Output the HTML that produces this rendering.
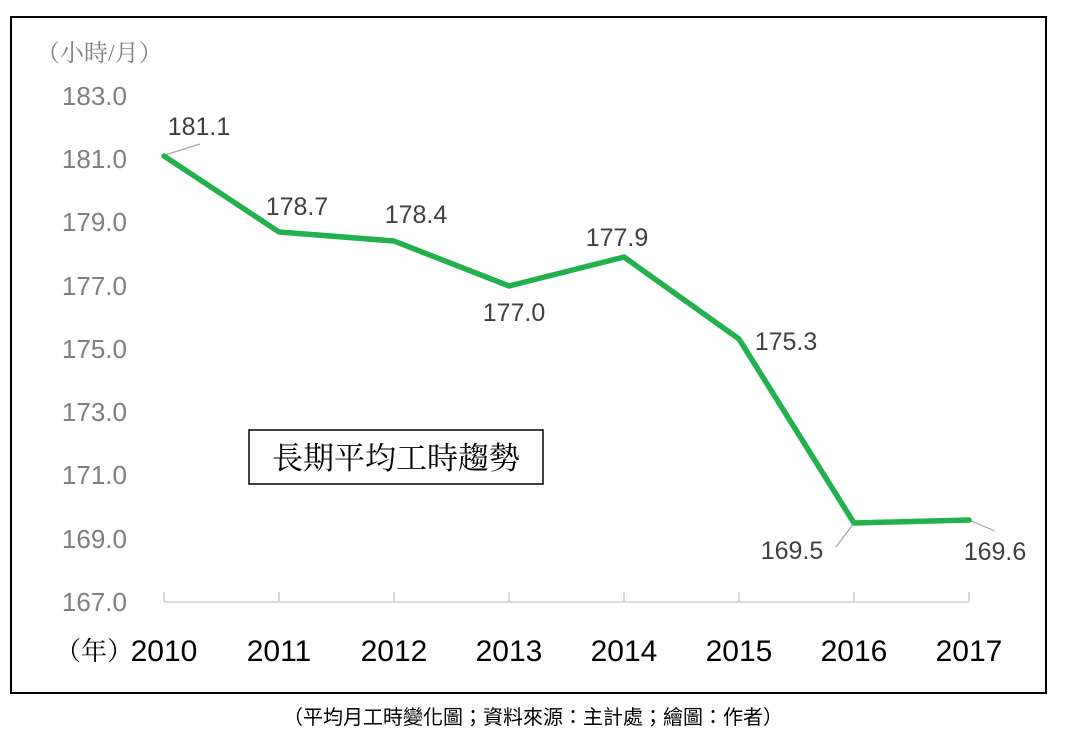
<!DOCTYPE html><html><head><meta charset="utf-8"><style>
body{margin:0;background:#fff;width:1066px;height:734px;overflow:hidden}
text{font-family:"Liberation Sans","Noto Sans CJK TC",sans-serif}
text.s{font-family:"Liberation Serif","Noto Serif CJK SC",serif}
</style></head><body>
<svg width="1066" height="734" xmlns="http://www.w3.org/2000/svg">
<rect x="11" y="17" width="1035" height="676" fill="#fff" stroke="#000" stroke-width="2"/>
<text class="s" x="36" y="61" font-size="24" fill="#7f7f7f">（小時/月）</text>
<g font-size="26" fill="#7f7f7f" text-anchor="end">
<text x="127" y="105">183.0</text><text x="127" y="168">181.0</text><text x="127" y="231">179.0</text>
<text x="127" y="295">177.0</text><text x="127" y="358">175.0</text><text x="127" y="421">173.0</text>
<text x="127" y="484">171.0</text><text x="127" y="548">169.0</text><text x="127" y="611">167.0</text>
</g>
<g stroke="#d9d9d9" stroke-width="2" fill="none">
<path d="M164 602H969"/>
<path d="M164 592V602M279 592V602M394 592V602M509 592V602M624 592V602M739 592V602M854 592V602M969 592V602"/>
</g>
<g stroke="#a6a6a6" stroke-width="1.2" fill="none">
<path d="M165 155L200 144M854 523L836 547M969 520L995 531"/>
</g>
<polyline points="164,156 279,232 394,241 509,286 624,257 739,339 854,523 969,520" fill="none" stroke="#22b14c" stroke-width="5.5" stroke-linejoin="round" stroke-linecap="round"/>
<g font-size="25" fill="#404040" text-anchor="middle">
<text x="199" y="135">181.1</text><text x="297" y="215">178.7</text><text x="416" y="223">178.4</text>
<text x="514" y="321">177.0</text><text x="617" y="246">177.9</text><text x="786" y="350">175.3</text>
<text x="792" y="559">169.5</text><text x="995" y="560">169.6</text>
</g>
<g font-size="30" fill="#000" text-anchor="middle">
<text class="s" x="55" y="660" text-anchor="start" font-size="26">（年）</text>
<text x="164" y="661">2010</text><text x="279" y="661">2011</text><text x="394" y="661">2012</text>
<text x="509" y="661">2013</text><text x="624" y="661">2014</text><text x="739" y="661">2015</text>
<text x="854" y="661">2016</text><text x="969" y="661">2017</text>
</g>
<rect x="249" y="430" width="294" height="54" fill="#fff" stroke="#000" stroke-width="1.5"/>
<text class="s" x="396" y="469" font-size="31" text-anchor="middle" fill="#000">長期平均工時趨勢</text>
<text x="533" y="724" font-size="20" text-anchor="middle" fill="#000">（平均月工時變化圖；資料來源：主計處；繪圖：作者）</text>
</svg>
</body></html>
